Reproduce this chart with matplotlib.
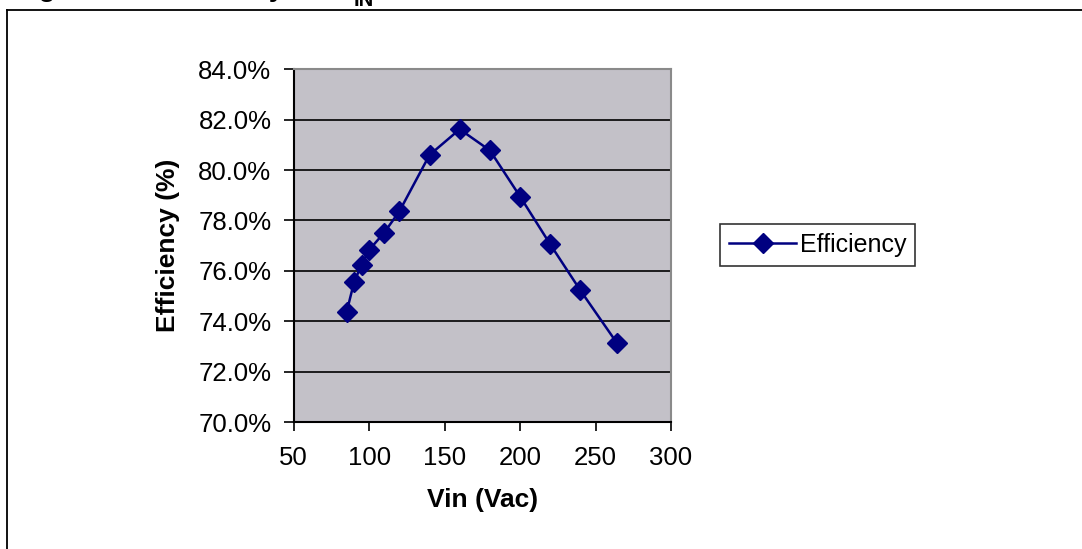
import numpy as np
import matplotlib.pyplot as plt
from matplotlib.lines import Line2D
from matplotlib.ticker import FuncFormatter

plt.rcParams['font.family'] = ['Liberation Sans', 'DejaVu Sans']

vin = [85, 90, 95, 100, 110, 120, 140, 160, 180, 200, 220, 240, 264]
eff = [74.35, 75.55, 76.25, 76.83, 77.52, 78.36, 80.6, 81.62, 80.78, 78.95, 77.05, 75.22, 73.15]

W, H = 1082, 549
fig = plt.figure(figsize=(W / 100, H / 100), dpi=100)

# cut-off caption above the frame, only descenders are visible
fig.text(14 / W, 1 + 4 / H, "Figure 12. Efficiency vs. V", fontsize=20, fontweight='bold',
         ha='left', va='baseline')
fig.text(354 / W, 1 - 6 / H, "IN", fontsize=14.5, fontweight='bold', ha='left', va='baseline')

# outer frame
fig.add_artist(Line2D([7 / W, 7 / W], [0, 1 - 10 / H], color='black', lw=1.3))
fig.add_artist(Line2D([7 / W, 1], [1 - 10 / H, 1 - 10 / H], color='black', lw=1.3))

ax = fig.add_axes([293.7 / W, (H - 422) / H, (671 - 293.7) / W, (422 - 69.3) / H])
ax.set_facecolor('#c3c1c8')
ax.set_xlim(50, 300)
ax.set_ylim(70, 84)
ax.set_xticks(np.arange(50, 301, 50))
ax.set_yticks(np.arange(70, 84.1, 2))
ax.yaxis.set_major_formatter(FuncFormatter(lambda v, p: f"{v:.1f}%"))
ax.grid(axis='y', color='black', lw=1.2)
ax.set_axisbelow(True)

for s in ['top', 'right']:
    ax.spines[s].set_color('#8a8a8a')
    ax.spines[s].set_linewidth(1.5)
for s in ['left', 'bottom']:
    ax.spines[s].set_color('black')
    ax.spines[s].set_linewidth(1.5)

ax.tick_params(axis='x', direction='out', length=6.5, width=1.2, pad=11, labelsize=18.5)
ax.tick_params(axis='y', direction='out', length=7, width=1.2, pad=9, labelsize=18.5)

ax.plot(vin, eff, color='#000080', lw=1.8, marker='D', markersize=10,
        markeredgecolor='#000080', label='Efficiency')

ax.set_xlabel('Vin (Vac)', fontsize=19, fontweight='bold', labelpad=13)
ax.set_ylabel('Efficiency (%)', fontsize=19, fontweight='bold', labelpad=13)

leg = fig.legend(loc='center left', bbox_to_anchor=(720 / W, 1 - 245 / H), fontsize=18,
                 frameon=True, fancybox=False, edgecolor='black', handlelength=2.7,
                 borderpad=0.35, handletextpad=0.15, borderaxespad=0)
leg.get_frame().set_linewidth(1.2)

fig.savefig('out.png', dpi=100)
